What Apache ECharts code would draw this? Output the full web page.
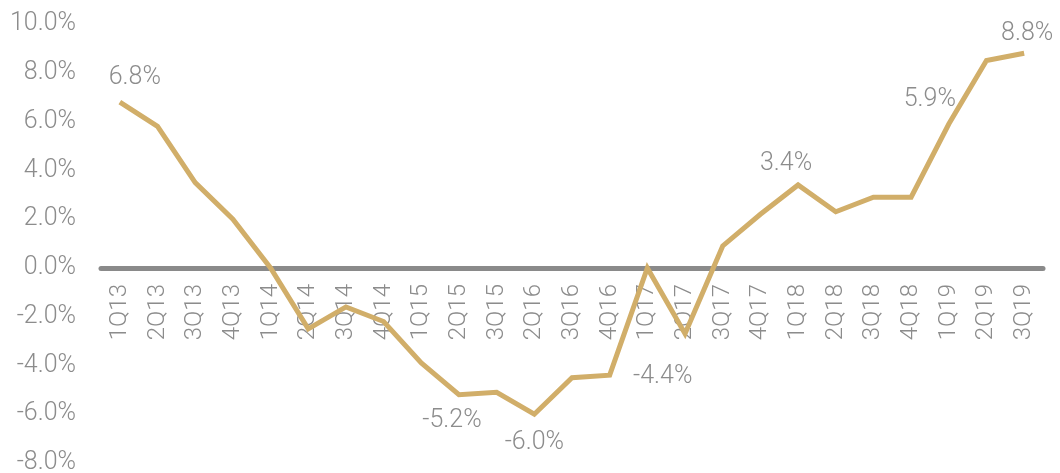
<!DOCTYPE html>
<html>
<head>
<meta charset="utf-8">
<script src="https://cdn.jsdelivr.net/npm/echarts@6/dist/echarts.min.js"></script>
<style>
  html, body { margin: 0; padding: 0; background: #fff; }
  #chart { width: 1060px; height: 473px; }
</style>
</head>
<body>
<div id="chart"></div>
<script>
// 季度数据
var quarters = ['1Q13', '2Q13', '3Q13', '4Q13', '1Q14', '2Q14', '3Q14', '4Q14',
    '1Q15', '2Q15', '3Q15', '2Q16', '3Q16', '4Q16', '1Q17', '2Q17', '3Q17', '4Q17',
    '1Q18', '2Q18', '3Q18', '4Q18', '1Q19', '2Q19', '3Q19'];
var growth = [6.8, 5.8, 3.5, 2.0, 0.0, -2.5, -1.6, -2.2,
    -3.9, -5.2, -5.1, -6.0, -4.5, -4.4, 0.0, -2.7, 0.9, 2.2,
    3.4, 2.3, 2.9, 2.9, 5.9, 8.5, 8.8];
var yTicks = [-8, -6, -4, -2, 0, 2, 4, 6, 8, 10];

// 需要显示数值的点
var labelled = [0, 9, 11, 13, 18, 22, 24];
// 标签中心相对数据点的偏移(像素)
var labelShift = {
    0: [15, -24],
    9: [-7, 26],
    11: [0, 29],
    13: [53, 2],
    18: [-12, -21],
    22: [-19, -24],
    24: [3, -20]
};

var gray = '#8c8c8c';
var gold = '#d1ae69';

var points = [];
for (var i = 0; i < growth.length; i++) {
    var item = { value: growth[i] };
    if (labelled.indexOf(i) >= 0) {
        item.label = { show: true };
    }
    points.push(item);
}

var oChart = echarts.init(document.getElementById('chart'));
var opt = {
    animation: false,
    grid: {
        left: 101,
        right: 17,
        top: 24,
        bottom: 10,
        outerBoundsMode: 'none',
        containLabel: false
    },
    xAxis: [{
        type: 'category',
        boundaryGap: true,
        data: quarters,
        offset: -195, // 把x轴移到0的位置
        axisLine: {
            onZero: false,
            lineStyle: { color: '#8a8a8a', width: 5 }
        },
        axisTick: { show: false },
        axisLabel: {
            rotate: 90,
            margin: 16,
            interval: 0,
            color: gray,
            fontSize: 24,
            fontWeight: 300,
            fontFamily: 'Roboto'
        },
        z: 1
    }],
    yAxis: [{
        type: 'value',
        min: yTicks[0],
        max: yTicks[yTicks.length - 1],
        interval: 2,
        axisLine: { show: false },
        axisTick: { show: false },
        splitLine: { show: false },
        axisLabel: {
            margin: 25,
            color: gray,
            fontSize: 25,
            fontWeight: 300,
            fontFamily: 'Roboto',
            formatter: function(v) { return v.toFixed(1) + '%'; }
        }
    }],
    series: [{
        type: 'line',
        data: points,
        symbol: 'circle',
        symbolSize: 0,
        showSymbol: true,
        z: 3,
        lineStyle: { color: gold, width: 5, join: 'miter' },
        itemStyle: { color: gold },
        label: {
            show: false,
            position: 'inside',
            formatter: function(p) { return p.value.toFixed(1) + '%'; },
            color: gray,
            fontSize: 25,
            fontWeight: 300,
            fontFamily: 'Roboto'
        },
        labelLayout: function(p) {
            var s = labelShift[p.dataIndex] || [0, 0];
            return { dx: s[0], dy: s[1], hideOverlap: false };
        }
    }]
};
oChart.setOption(opt);
</script>
</body>
</html>
